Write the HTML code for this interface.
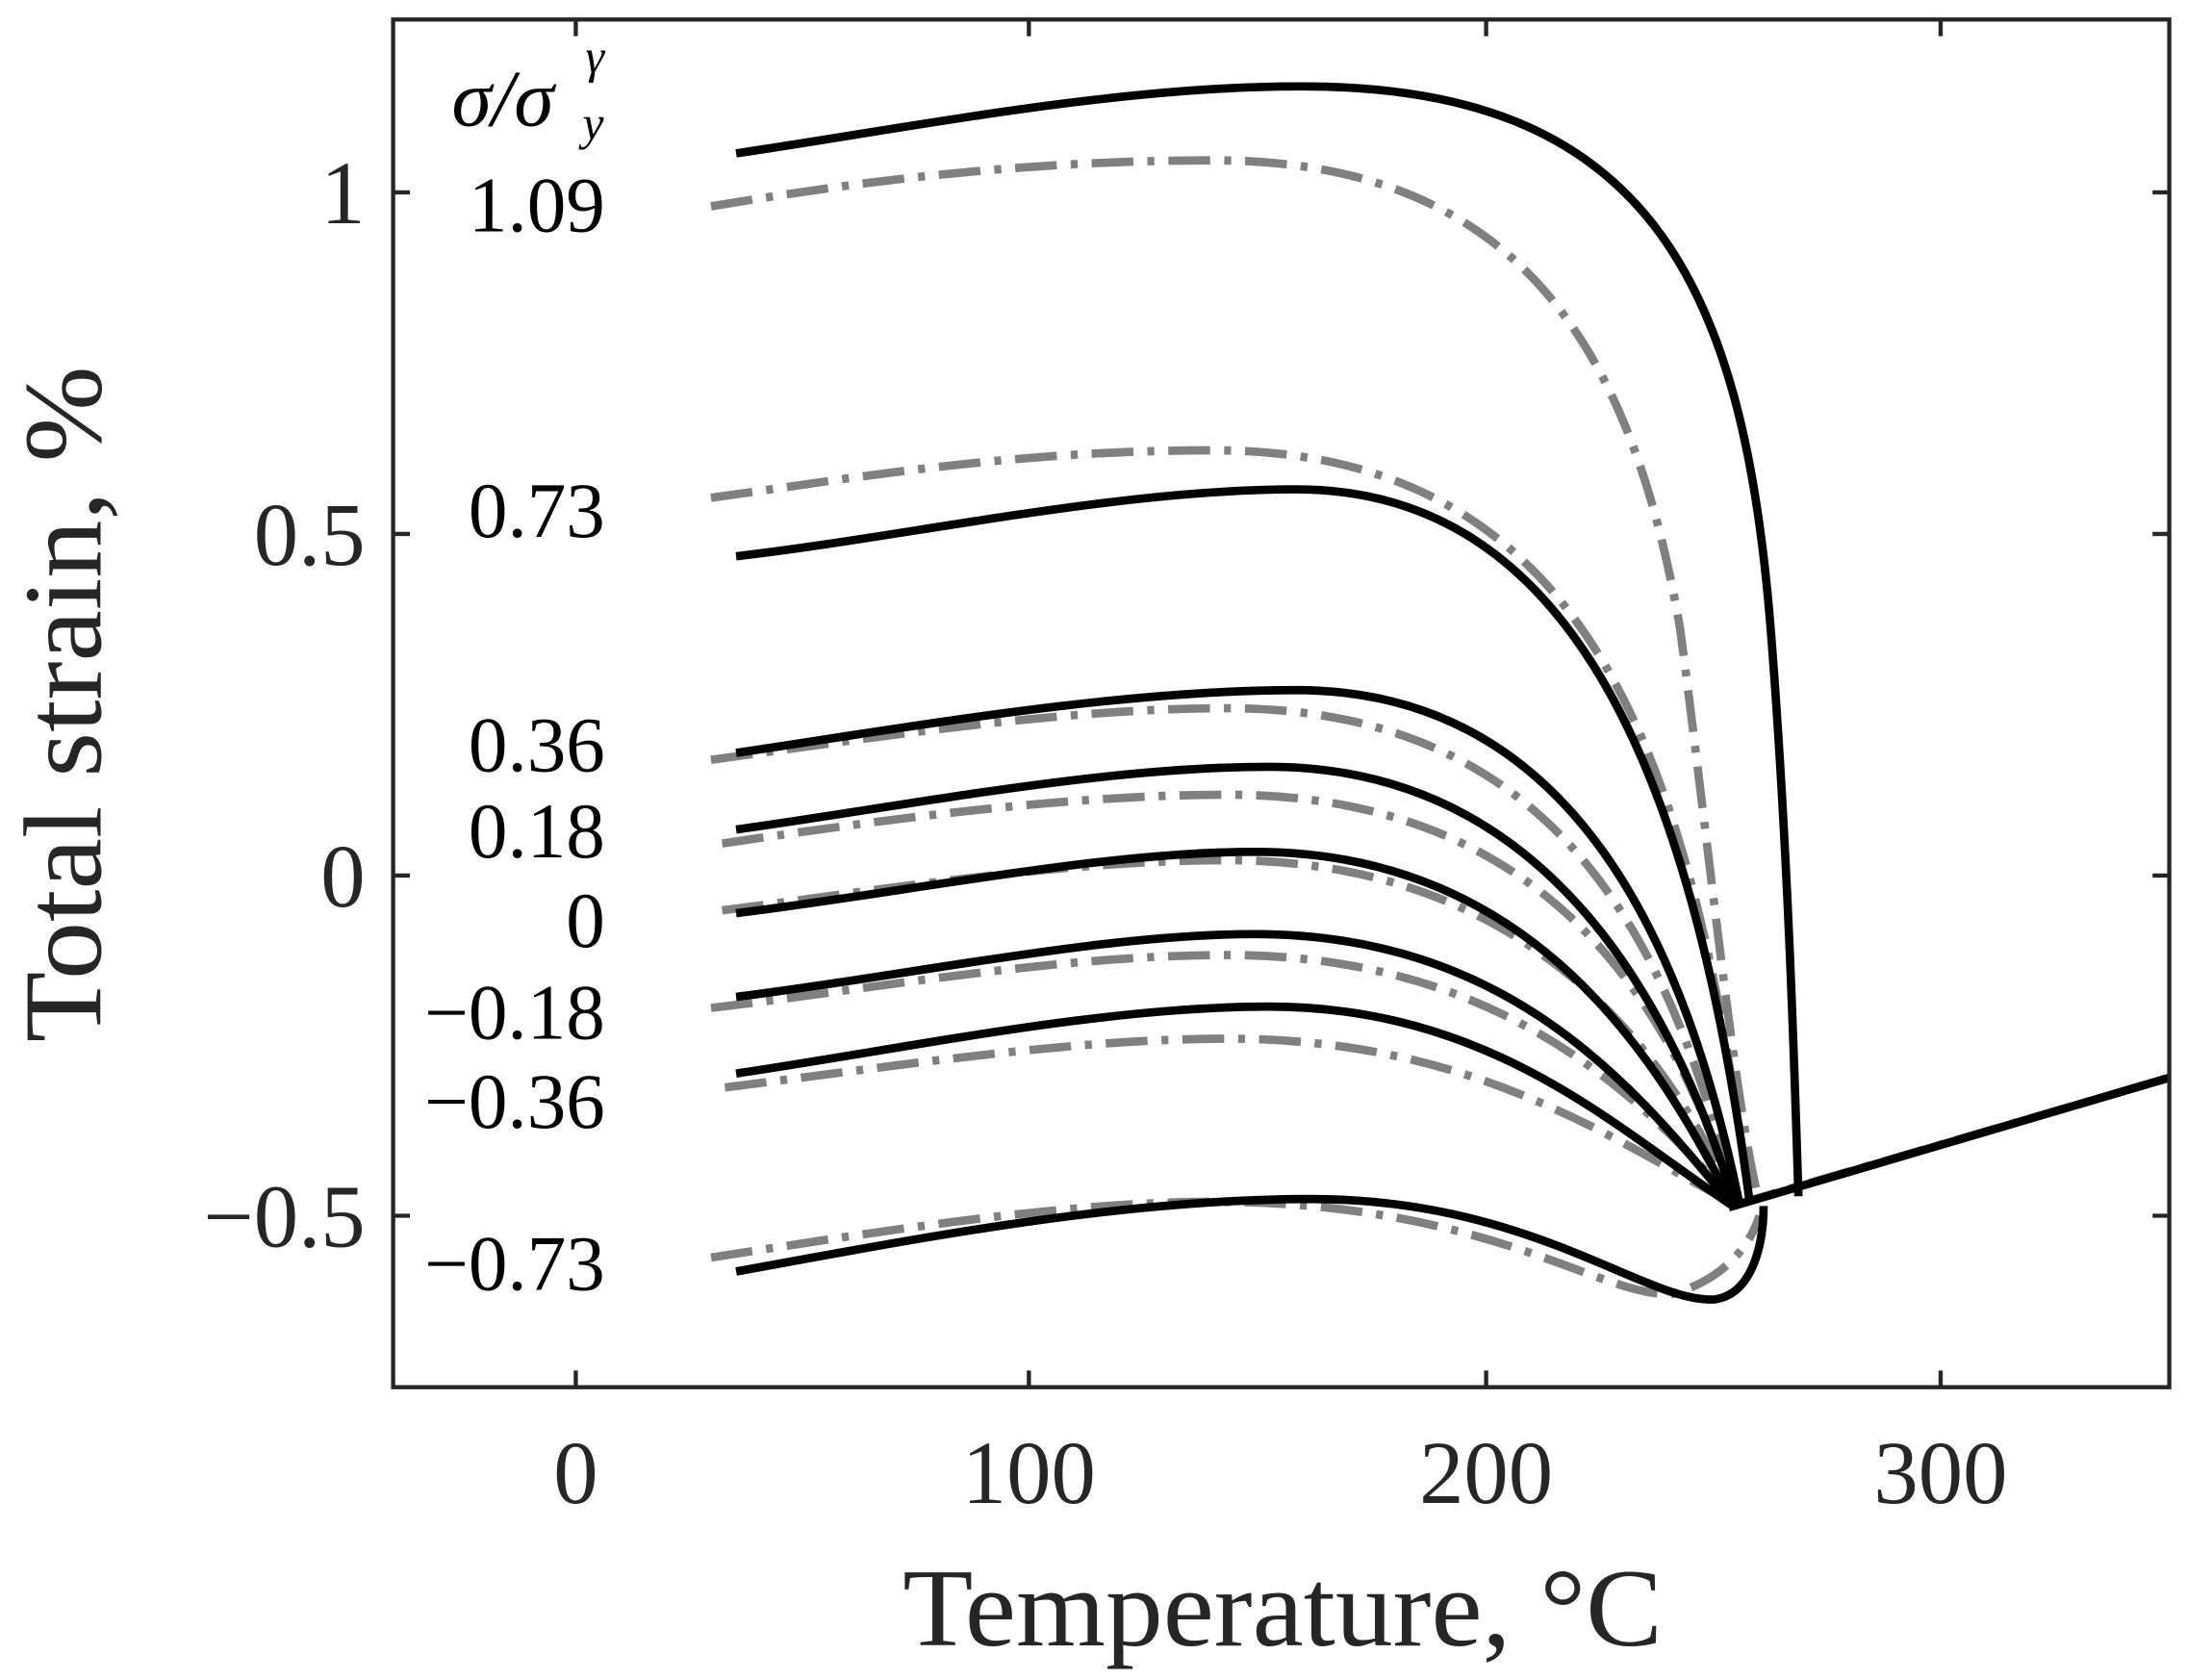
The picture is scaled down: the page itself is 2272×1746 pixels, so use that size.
<!DOCTYPE html>
<html><head><style>html,body{margin:0;padding:0;background:#fff}svg{display:block}</style></head>
<body>
<svg width="2272" height="1746" viewBox="0 0 1568 1205" preserveAspectRatio="none" xmlns="http://www.w3.org/2000/svg">
<rect width="1568" height="1205" fill="#fff"/>
<g fill="none" stroke-linecap="butt" stroke-linejoin="round">
<g stroke="#808080" stroke-width="6" stroke-dasharray="30 10 5 10">
<path d="M510 148 C560 140,700 115,870 115 C1090 115,1170 250,1205 450 C1225 600,1245 800,1262 862"/>
<path d="M510 357 C600 345,720 323,870 323 C1150 323,1215 560,1255 862"/>
<path d="M510 545 C620 530,760 508,880 508 C1120 508,1200 680,1245 864"/>
<path d="M518 605 C620 590,760 570,880 570 C1110 570,1200 720,1245 864"/>
<path d="M518 653 C620 640,760 617,880 617 C1100 617,1200 760,1245 864"/>
<path d="M510 723 C620 710,760 685,880 685 C1080 685,1180 790,1245 864"/>
<path d="M520 780 C640 765,770 745,880 745 C1060 745,1160 820,1245 864"/>
<path d="M510 902 C620 885,760 862,870 862 C1070 862,1150 932,1200 928 C1235 918,1255 895,1262 872"/>
<path d="M1245 864 L1556 773"/>
</g>
<g stroke="#000" stroke-width="6">
<path d="M528 110 C650 92,800 62,930 62 C1180 60,1250 200,1270 450 C1282 600,1287 760,1290 858"/>
<path d="M528 399 C650 385,800 351,930 351 C1130 351,1215 560,1255 862"/>
<path d="M528 540 C650 522,800 495,930 495 C1130 495,1210 680,1248 865"/>
<path d="M528 595 C650 578,790 550,910 550 C1110 550,1200 720,1245 865"/>
<path d="M528 655 C650 640,790 611,900 611 C1100 611,1190 760,1243 865"/>
<path d="M528 715 C650 700,790 670,900 670 C1090 670,1180 790,1243 865"/>
<path d="M528 770 C650 752,790 722,910 722 C1070 722,1160 810,1243 865"/>
<path d="M528 912 C650 890,800 860,940 860 C1100 860,1180 935,1230 932 C1258 928,1265 890,1265 865"/>
<path d="M1240 866 L1556 773"/>
</g>
</g>
<g stroke="#262626" stroke-width="3" fill="none">
<rect x="282" y="14" width="1274" height="981"/>
<path d="M413 995 v-12 M738 995 v-12 M1066 995 v-12 M1392 995 v-12 M413 14 v12 M738 14 v12 M1066 14 v12 M1392 14 v12"/>
<path d="M282 138 h12 M282 383 h12 M282 628 h12 M282 872 h12 M1556 138 h-12 M1556 383 h-12 M1556 628 h-12 M1556 872 h-12"/>
</g>
<g font-family="'Liberation Serif',serif" fill="#262626" font-size="64">
<text x="413" y="1078" text-anchor="middle">0</text>
<text x="738" y="1078" text-anchor="middle">100</text>
<text x="1066" y="1078" text-anchor="middle">200</text>
<text x="1392" y="1078" text-anchor="middle">300</text>
<text x="262" y="160" text-anchor="end">1</text>
<text x="262" y="405" text-anchor="end">0.5</text>
<text x="262" y="650" text-anchor="end">0</text>
<text x="262" y="894" text-anchor="end">−0.5</text>
<text x="920" y="1180" text-anchor="middle" font-size="80" textLength="545" lengthAdjust="spacingAndGlyphs">Temperature, °C</text>
<text transform="translate(72 505) rotate(-90)" text-anchor="middle" font-size="80" textLength="485" lengthAdjust="spacingAndGlyphs">Total strain, %</text>
</g>
<g font-family="'Liberation Serif',serif" fill="#000" font-size="56" text-anchor="end">
<text x="434" y="166">1.09</text>
<text x="434" y="385">0.73</text>
<text x="434" y="553">0.36</text>
<text x="434" y="615">0.18</text>
<text x="434" y="679">0</text>
<text x="434" y="745">−0.18</text>
<text x="434" y="809">−0.36</text>
<text x="434" y="925">−0.73</text>
</g>
<g font-family="'Liberation Serif',serif" font-style="italic" fill="#000">
<text x="324" y="90" font-size="58">σ/σ</text>
<text x="420" y="52" font-size="34">γ</text>
<text x="418" y="100" font-size="34">y</text>
</g>
</svg>
</body></html>
